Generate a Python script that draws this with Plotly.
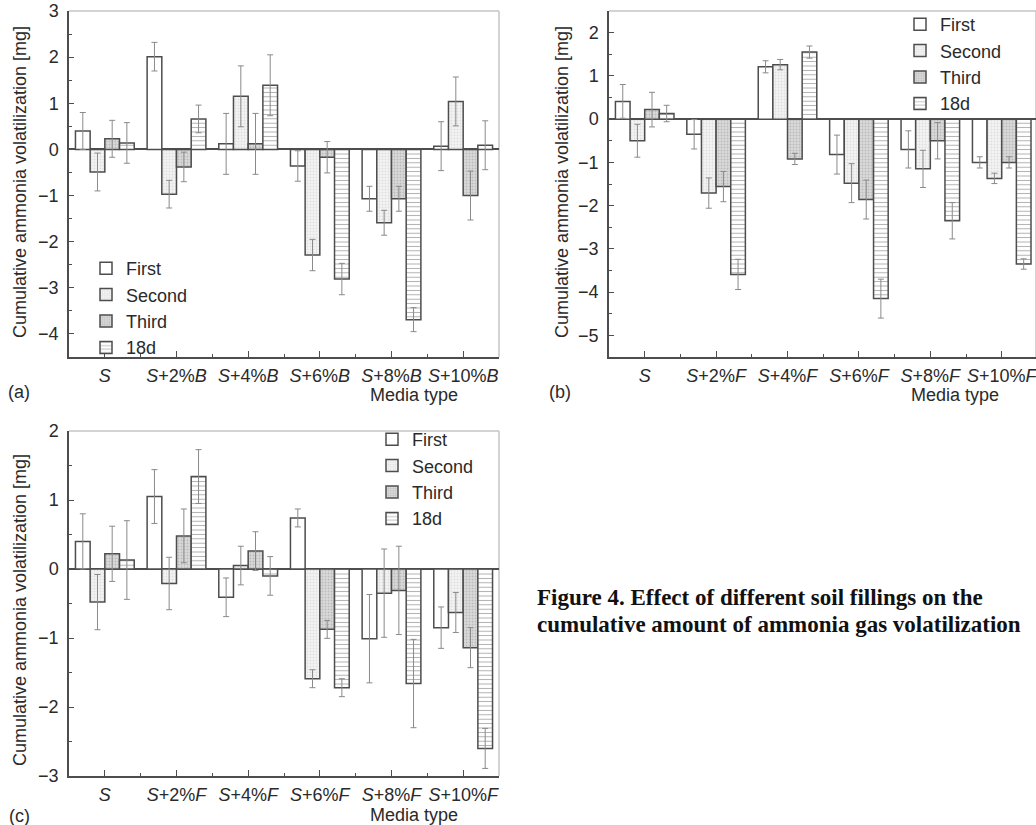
import plotly.graph_objects as go

W, H = 1036, 825

series_names = ["First", "Second", "Third", "18d"]
ticktext_a = ["<i>S</i>", "<i>S</i>+2%<i>B</i>", "<i>S</i>+4%<i>B</i>", "<i>S</i>+6%<i>B</i>",
              "<i>S</i>+8%<i>B</i>", "<i>S</i>+10%<i>B</i>"]
ticktext_f = ["<i>S</i>", "<i>S</i>+2%<i>F</i>", "<i>S</i>+4%<i>F</i>", "<i>S</i>+6%<i>F</i>",
              "<i>S</i>+8%<i>F</i>", "<i>S</i>+10%<i>F</i>"]
positions = [0, 1, 2, 3, 4, 5]

# Panel (a)
a_first = [0.40, 2.01, 0.12, -0.36, -1.07, 0.07]
a_first_err = [0.40, 0.31, 0.66, 0.33, 0.27, 0.53]
a_second = [-0.49, -0.97, 1.15, -2.29, -1.59, 1.04]
a_second_err = [0.41, 0.30, 0.66, 0.34, 0.27, 0.53]
a_third = [0.23, -0.38, 0.12, -0.17, -1.07, -1.00]
a_third_err = [0.40, 0.32, 0.66, 0.34, 0.27, 0.53]
a_18d = [0.14, 0.66, 1.39, -2.81, -3.69, 0.09]
a_18d_err = [0.44, 0.30, 0.66, 0.34, 0.26, 0.53]

# Panel (b)
b_first = [0.41, -0.35, 1.21, -0.82, -0.70, -1.00]
b_first_err = [0.39, 0.34, 0.14, 0.45, 0.43, 0.13]
b_second = [-0.50, -1.71, 1.26, -1.48, -1.15, -1.37]
b_second_err = [0.38, 0.35, 0.12, 0.45, 0.43, 0.12]
b_third = [0.22, -1.56, -0.92, -1.86, -0.50, -1.00]
b_third_err = [0.40, 0.35, 0.13, 0.45, 0.42, 0.13]
b_18d = [0.13, -3.59, 1.55, -4.15, -2.35, -3.35]
b_18d_err = [0.19, 0.35, 0.14, 0.45, 0.42, 0.12]

# Panel (c)
c_first = [0.40, 1.05, -0.41, 0.74, -1.01, -0.85]
c_first_err = [0.40, 0.39, 0.28, 0.13, 0.64, 0.30]
c_second = [-0.48, -0.21, 0.05, -1.59, -0.35, -0.63]
c_second_err = [0.40, 0.38, 0.28, 0.13, 0.64, 0.29]
c_third = [0.22, 0.48, 0.26, -0.875, -0.31, -1.14]
c_third_err = [0.40, 0.39, 0.28, 0.13, 0.64, 0.29]
c_18d = [0.13, 1.34, -0.10, -1.72, -1.66, -2.60]
c_18d_err = [0.57, 0.39, 0.28, 0.13, 0.64, 0.29]

FONT = "Liberation Sans, Arial, sans-serif"
TXT = "#2a2a2a"
AX = "#4d4d4d"

styles = [
    dict(color="white"),
    dict(color="#f1f1f1", pattern=dict(shape=".", fgcolor="#c8c8c8", bgcolor="#f4f4f4", size=3, solidity=0.3)),
    dict(color="#d6d6d6", pattern=dict(shape=".", fgcolor="#9c9c9c", bgcolor="#dadada", size=3, solidity=0.35)),
    dict(color="white", pattern=dict(shape="-", fgcolor="#5a5a5a", bgcolor="white", size=4.4, solidity=0.22)),
]

fig = go.Figure()

panels = [
    ("x", "y", "legend", [a_first, a_second, a_third, a_18d], [a_first_err, a_second_err, a_third_err, a_18d_err]),
    ("x2", "y2", "legend2", [b_first, b_second, b_third, b_18d], [b_first_err, b_second_err, b_third_err, b_18d_err]),
    ("x3", "y3", "legend3", [c_first, c_second, c_third, c_18d], [c_first_err, c_second_err, c_third_err, c_18d_err]),
]

for xa, ya, leg, vals, errs in panels:
    for name, v, e, st in zip(series_names, vals, errs, styles):
        marker = dict(line=dict(color=AX, width=1.5), **st)
        fig.add_trace(go.Bar(
            x=positions, y=v, name=name, xaxis=xa, yaxis=ya, legend=leg,
            marker=marker,
            error_y=dict(type="data", array=e, visible=True, color="#8a8a8a", thickness=1, width=3),
        ))


def px_x(p):
    return p / W


def px_y(p):
    return 1 - p / H


def xaxis(domain, ticktext, anchor, rng):
    return dict(
        domain=domain, anchor=anchor, range=rng, tickmode="array", tickvals=positions, ticktext=ticktext,
        ticks="inside", ticklen=6, tickwidth=1.3, tickcolor=AX, showline=True, linecolor=AX, linewidth=1.5,
        showgrid=False, zeroline=False, ticklabelstandoff=2, automargin=False, ticklabeloverflow="allow",
        tickfont=dict(family=FONT, size=18, color=TXT),
        minor=dict(tickmode="array", tickvals=[0.5, 1.5, 2.5, 3.5, 4.5], ticks="inside", ticklen=3,
                   tickcolor=AX, tickwidth=1.2, showgrid=False),
        fixedrange=True,
    )


def yaxis(domain, anchor, rng):
    return dict(
        domain=domain, anchor=anchor, range=rng, tickmode="linear", dtick=1, tick0=0,
        ticks="inside", ticklen=5, tickwidth=1.3, tickcolor=AX, showline=True, linecolor=AX, linewidth=1.5,
        showgrid=False, zeroline=True, zerolinecolor=AX, zerolinewidth=1.6, ticklabelstandoff=5,
        automargin=False,
        tickfont=dict(family=FONT, size=18, color=TXT),
        minor=dict(dtick=0.5, ticks="inside", ticklen=3, tickcolor=AX, tickwidth=1.2, showgrid=False),
        fixedrange=True,
    )


dom_ax = [px_x(69), px_x(499)]
dom_bx = [px_x(609), 1.0]
dom_top = [px_y(357), px_y(11)]
dom_c = [px_y(776), px_y(431)]

leg_common = dict(font=dict(family=FONT, size=18, color=TXT), bgcolor="rgba(0,0,0,0)",
                  xanchor="left", yanchor="top", tracegroupgap=0, itemwidth=30)

fig.update_layout(
    width=W, height=H, margin=dict(l=0, r=0, t=0, b=0, autoexpand=False),
    paper_bgcolor="white", plot_bgcolor="white",
    barmode="group", bargap=0.18, bargroupgap=0,
    font=dict(family=FONT, size=18, color=TXT),
    xaxis=xaxis(dom_ax, ticktext_a, "y", [-0.5, 5.5]),
    yaxis=yaxis(dom_top, "x", [-4.5, 3]),
    xaxis2=xaxis(dom_bx, ticktext_f, "y2", [-0.5, 5.48]),
    yaxis2=yaxis(dom_top, "x2", [-5.5, 2.5]),
    xaxis3=xaxis(dom_ax, ticktext_f, "y3", [-0.5, 5.5]),
    yaxis3=yaxis(dom_c, "x3", [-3, 2]),
    legend=dict(x=px_x(86), y=px_y(250), **leg_common),
    legend2=dict(x=px_x(900), y=px_y(6), **leg_common),
    legend3=dict(x=px_x(372), y=px_y(421), **leg_common),
    showlegend=True,
)

# light top/right frame
shapes = []
for xr, yr in [("x", "y"), ("x2", "y2"), ("x3", "y3")]:
    shapes.append(dict(type="line", xref=f"{xr} domain", yref=f"{yr} domain", x0=0, x1=1, y0=1, y1=1,
                       line=dict(color="#c4c4c4", width=1.5), layer="below"))
    shapes.append(dict(type="line", xref=f"{xr} domain", yref=f"{yr} domain", x0=1, x1=1, y0=0, y1=1,
                       line=dict(color="#c4c4c4", width=1.5), layer="below"))
fig.update_layout(shapes=shapes)

ytitle = "Cumulative ammonia volatilization [mg]"
ann = []
for xp, yp in [(20, 182), (562, 182), (20, 610)]:
    ann.append(dict(text=ytitle, x=px_x(xp), y=px_y(yp), xref="paper", yref="paper", showarrow=False,
                    textangle=-90, xanchor="center", yanchor="middle",
                    font=dict(family=FONT, size=18, color=TXT)))
for txt, xp, yp in [("(a)", 19, 392), ("(b)", 560, 392), ("(c)", 19, 816)]:
    ann.append(dict(text=txt, x=px_x(xp), y=px_y(yp), xref="paper", yref="paper", showarrow=False,
                    xanchor="center", yanchor="middle", font=dict(family=FONT, size=18, color=TXT)))
for xp, yp in [(414, 395), (955, 395), (414, 815)]:
    ann.append(dict(text="Media type", x=px_x(xp), y=px_y(yp), xref="paper", yref="paper", showarrow=False,
                    xanchor="center", yanchor="middle", font=dict(family=FONT, size=18, color=TXT)))
ann.append(dict(text="<b>Figure 4. Effect of different soil fillings on the</b>", x=px_x(535), y=px_y(597),
                xref="paper", yref="paper", showarrow=False, xanchor="left", yanchor="middle",
                font=dict(family="Liberation Serif, Times New Roman, serif", size=23, color="#111")))
ann.append(dict(text="<b>cumulative amount of ammonia gas volatilization</b>", x=px_x(535), y=px_y(624),
                xref="paper", yref="paper", showarrow=False, xanchor="left", yanchor="middle",
                font=dict(family="Liberation Serif, Times New Roman, serif", size=23, color="#111")))
fig.update_layout(annotations=ann)

fig.write_html("out.html", config={"displayModeBar": False},
               post_script="document.body.style.margin='0px';document.body.style.overflow='hidden';")
